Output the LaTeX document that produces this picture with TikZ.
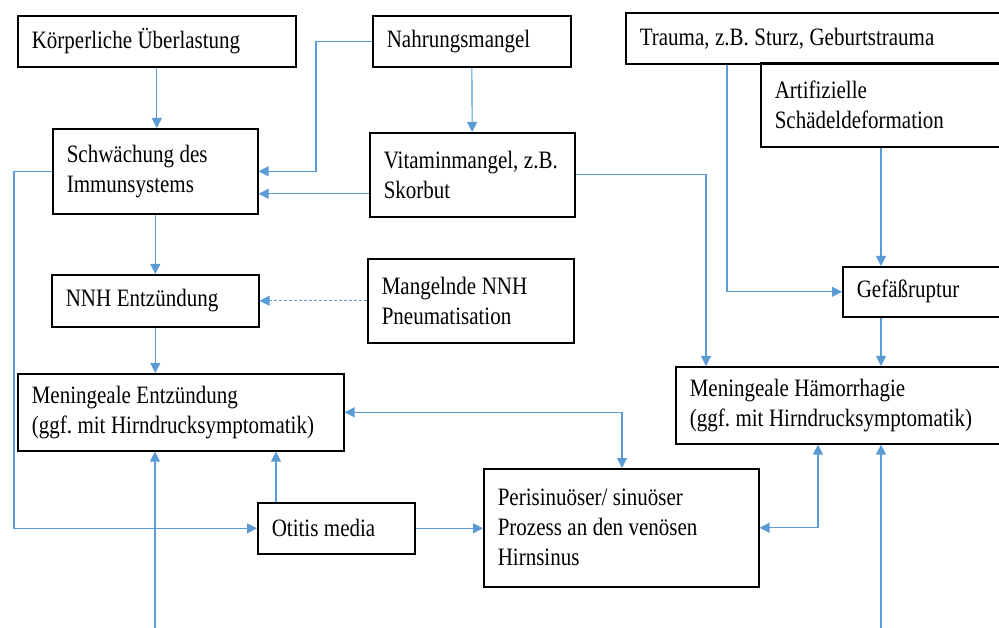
\documentclass[tikz,border=0pt]{standalone}
\usepackage{fontspec}
\setmainfont{Liberation Serif}[FakeStretch=0.84]
\usepackage{tikz}
\usetikzlibrary{arrows.meta,positioning,calc}
\definecolor{linkblue}{RGB}{91,155,213}
\tikzset{
  box/.style={draw, line width=1.6pt, rectangle, anchor=north west, align=left,
    inner xsep=14pt, inner ysep=0pt, font=\fontsize{25pt}{30pt}\selectfont,
    execute at begin node={\frenchspacing\spaceskip=5.5pt plus 2pt minus 1pt\relax}},
  link/.style={draw=linkblue, line width=1.1pt, -{Triangle[length=10pt, width=10pt]}},
  link2/.style={link, {Triangle[length=10pt, width=10pt]}-{Triangle[length=10pt, width=10pt]}},
}
\begin{document}
\begin{tikzpicture}[x=1pt, y=-1pt]
        \clip (0,0) rectangle (999,628);

        \node (koerper) [box, text width=250pt, minimum height=51pt] at (17,15) {Körperliche Überlastung};
        \node (nahrung) [box, text width=170pt, minimum height=51pt] at (372,15) {Nahrungsmangel};
        \node (artif) [box, text width=216pt, minimum height=84pt] at (760,62) {Artifizielle\\Schädeldeformation};
        \node (trauma) [box, text width=351pt, minimum height=51pt] at (625,12) {Trauma, z.B. Sturz, Geburtstrauma};

        \node (schwaech) [box, text width=177pt, minimum height=85pt] at (52,128) {Schwächung des\\Immunsystems};
        \node (vitamin) [box, text width=177pt, minimum height=84pt] at (369,132) {Vitaminmangel, z.B.\\Skorbut};

        \node (nnh) [box, text width=179pt, minimum height=52pt] at (51,274) {NNH Entzündung};
        \node (mangel) [box, text width=178pt, minimum height=84pt] at (367,258) {Mangelnde NNH\\Pneumatisation};
        \node (gefaess) [box, text width=134pt, minimum height=50pt] at (842,266) {Gefäßruptur};

        \node (menEntz) [box, text width=298pt, minimum height=77pt] at (17,373) {Meningeale Entzündung\\(ggf. mit Hirndrucksymptomatik)};
        \node (menHaem) [box, text width=301pt, minimum height=77pt] at (675,366) {Meningeale Hämorrhagie\\(ggf. mit Hirndrucksymptomatik)};

        \node (otitis) [box, text width=129pt, minimum height=51pt] at (257,502) {Otitis media};
        \node (perisin) [box, text width=247pt, minimum height=118pt] at (483,468) {Perisinuöser/ sinuöser\\Prozess an den venösen\\Hirnsinus};

        \coordinate (vitOut) at ([yshift=-19pt]vitamin.west);
        \coordinate (otiUp) at ([xshift=19pt]otitis.north west);
        \coordinate (srcL) at (155,628);
        \coordinate (srcR) at (881,628);

        \draw[link] (koerper.south) -- (koerper.south |- schwaech.north);
        \draw[link] (nahrung.west) -- ++(-56,0) |- (schwaech.east);
        \draw[link] (vitOut) -- (vitOut -| schwaech.east);
        \draw[link] (nahrung) -- (vitamin);
        \draw[link] (vitamin.east) -| ([xshift=31pt]menHaem.north west);

        \draw[link] ([xshift=102pt]trauma.south west) |- (gefaess.west);
        \draw[link] ([xshift=121pt]artif.south west) -- ([xshift=39pt]gefaess.north west);
        \draw[link] ([xshift=39pt]gefaess.south west) -- ([xshift=206pt]menHaem.north west);

        \draw[link] (schwaech) -- (nnh);
        \draw[link] (nnh.south) -- (nnh.south |- menEntz.north);
        \draw[link, dash pattern=on 3pt off 2pt] (mangel.west) -- (nnh.east);
        \draw[link] (schwaech.west) -- ++(-38,0) |- (otitis.west);

        \draw[link] (otiUp) -- (otiUp |- menEntz.south);
        \draw[link] (srcL) -- (srcL |- menEntz.south);
        \draw[link] (srcR) -- (srcR |- menHaem.south);
        \draw[link] (otitis.east) -- (otitis.east -| perisin.west);

        \draw[link2] (menEntz.east) -| ([xshift=139pt]perisin.north west);
        \draw[link2] (perisin.east) -| ([xshift=143pt]menHaem.south west);
\end{tikzpicture}
\end{document}
